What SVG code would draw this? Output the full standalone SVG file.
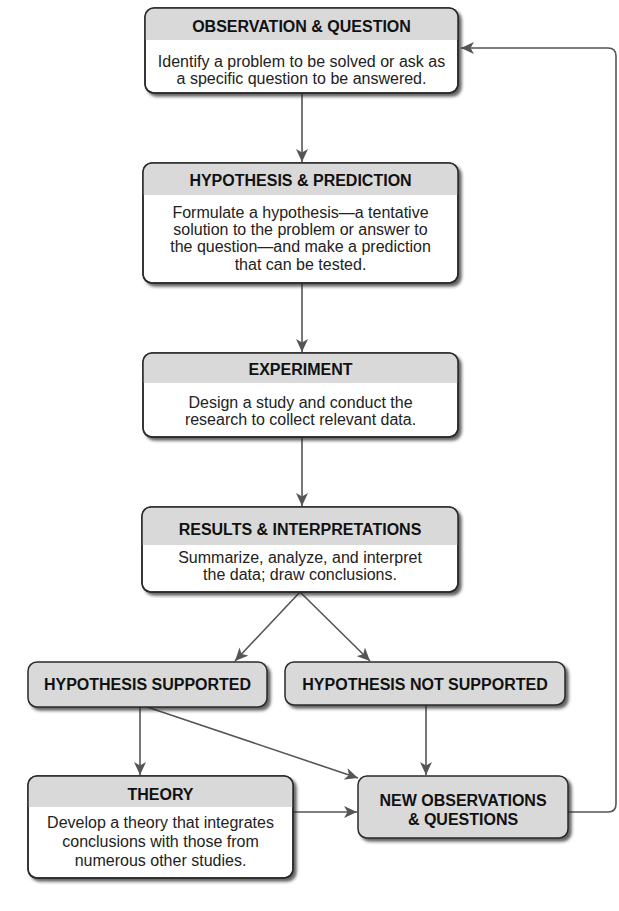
<svg xmlns="http://www.w3.org/2000/svg" width="619" height="911" viewBox="0 0 619 911">
<style>
.box{fill:#fff;stroke:#2a2a2a;stroke-width:1.5}
.gbox{fill:#d9d9d9;stroke:#2a2a2a;stroke-width:1.5}
.hdr{fill:#d9d9d9;stroke:none}
.outline{fill:none;stroke:#2a2a2a;stroke-width:1.5}
.t{font-family:"Liberation Sans",Arial,sans-serif;font-size:16px;font-weight:bold;fill:#111;text-anchor:middle}
.b{font-family:"Liberation Sans",Arial,sans-serif;font-size:16px;fill:#222;text-anchor:middle}
.c{fill:none;stroke:#555;stroke-width:1.6}
</style>
<defs>
<filter id="sh" x="-10%" y="-10%" width="125%" height="135%">
<feDropShadow dx="3" dy="3" stdDeviation="1.5" flood-color="#222" flood-opacity="0.7"/>
</filter>
<marker id="ah" markerUnits="userSpaceOnUse" markerWidth="14" markerHeight="12" refX="13" refY="6" orient="auto">
<path d="M0,0 L13,6 L0,12 L3.5,6 Z" fill="#555"/>
</marker>
</defs>

<g id="connectors">
<line class="c" x1="302" y1="93" x2="302" y2="162" marker-end="url(#ah)"/>
<line class="c" x1="302" y1="283" x2="302" y2="352" marker-end="url(#ah)"/>
<line class="c" x1="302" y1="437" x2="302" y2="506" marker-end="url(#ah)"/>
<line class="c" x1="300" y1="592" x2="235" y2="661" marker-end="url(#ah)"/>
<line class="c" x1="300" y1="592" x2="370" y2="661" marker-end="url(#ah)"/>
<line class="c" x1="140" y1="707" x2="140" y2="775" marker-end="url(#ah)"/>
<line class="c" x1="147" y1="707" x2="358" y2="778" marker-end="url(#ah)"/>
<line class="c" x1="426" y1="705" x2="426" y2="775" marker-end="url(#ah)"/>
<line class="c" x1="293" y1="812" x2="357" y2="812" marker-end="url(#ah)"/>
<path class="c" d="M568,812 H608 Q616,812 616,804 V56 Q616,48 608,48 H461" marker-end="url(#ah)"/>
</g>

<g id="observation">
<rect class="box" x="145" y="8" width="313" height="85" rx="9" filter="url(#sh)"/>
<path class="hdr" d="M145,40 V17 A9,9 0 0 1 154,8 H449 A9,9 0 0 1 458,17 V40 Z"/>
<rect class="outline" x="145" y="8" width="313" height="85" rx="9"/>
<text class="t" x="301.5" y="32">OBSERVATION &amp; QUESTION</text>
<text class="b" x="301.5" y="67">Identify a problem to be solved or ask as</text>
<text class="b" x="301.5" y="84">a specific question to be answered.</text>
</g>

<g id="hypothesis">
<rect class="box" x="143" y="163" width="315" height="120" rx="9" filter="url(#sh)"/>
<path class="hdr" d="M143,195 V172 A9,9 0 0 1 152,163 H449 A9,9 0 0 1 458,172 V195 Z"/>
<rect class="outline" x="143" y="163" width="315" height="120" rx="9"/>
<text class="t" x="300.5" y="186">HYPOTHESIS &amp; PREDICTION</text>
<text class="b" x="300.5" y="218">Formulate a hypothesis—a tentative</text>
<text class="b" x="300.5" y="235">solution to the problem or answer to</text>
<text class="b" x="300.5" y="252">the question—and make a prediction</text>
<text class="b" x="300.5" y="270">that can be tested.</text>
</g>

<g id="experiment">
<rect class="box" x="143" y="353" width="315" height="84" rx="9" filter="url(#sh)"/>
<path class="hdr" d="M143,383 V362 A9,9 0 0 1 152,353 H449 A9,9 0 0 1 458,362 V383 Z"/>
<rect class="outline" x="143" y="353" width="315" height="84" rx="9"/>
<text class="t" x="300.5" y="375">EXPERIMENT</text>
<text class="b" x="300.5" y="408">Design a study and conduct the</text>
<text class="b" x="300.5" y="425">research to collect relevant data.</text>
</g>

<g id="results">
<rect class="box" x="142" y="507" width="316" height="85" rx="9" filter="url(#sh)"/>
<path class="hdr" d="M142,545 V516 A9,9 0 0 1 151,507 H449 A9,9 0 0 1 458,516 V545 Z"/>
<rect class="outline" x="142" y="507" width="316" height="85" rx="9"/>
<text class="t" x="300" y="535">RESULTS &amp; INTERPRETATIONS</text>
<text class="b" x="300" y="563">Summarize, analyze, and interpret</text>
<text class="b" x="300" y="580">the data; draw conclusions.</text>
</g>

<g id="supported">
<rect class="gbox" x="28" y="662" width="239" height="45" rx="9" filter="url(#sh)"/>
<text class="t" x="147.5" y="690">HYPOTHESIS SUPPORTED</text>
</g>

<g id="not-supported">
<rect class="gbox" x="285" y="662" width="280" height="43" rx="9" filter="url(#sh)"/>
<text class="t" x="425" y="690">HYPOTHESIS NOT SUPPORTED</text>
</g>

<g id="theory">
<rect class="box" x="28" y="776" width="265" height="102" rx="9" filter="url(#sh)"/>
<path class="hdr" d="M28,807 V785 A9,9 0 0 1 37,776 H284 A9,9 0 0 1 293,785 V807 Z"/>
<rect class="outline" x="28" y="776" width="265" height="102" rx="9"/>
<text class="t" x="160.5" y="800">THEORY</text>
<text class="b" x="160.5" y="828">Develop a theory that integrates</text>
<text class="b" x="160.5" y="847">conclusions with those from</text>
<text class="b" x="160.5" y="866">numerous other studies.</text>
</g>

<g id="new-observations">
<rect class="gbox" x="358" y="776" width="210" height="62" rx="9" filter="url(#sh)"/>
<text class="t" x="463" y="806">NEW OBSERVATIONS</text>
<text class="t" x="463" y="825">&amp; QUESTIONS</text>
</g>
</svg>
